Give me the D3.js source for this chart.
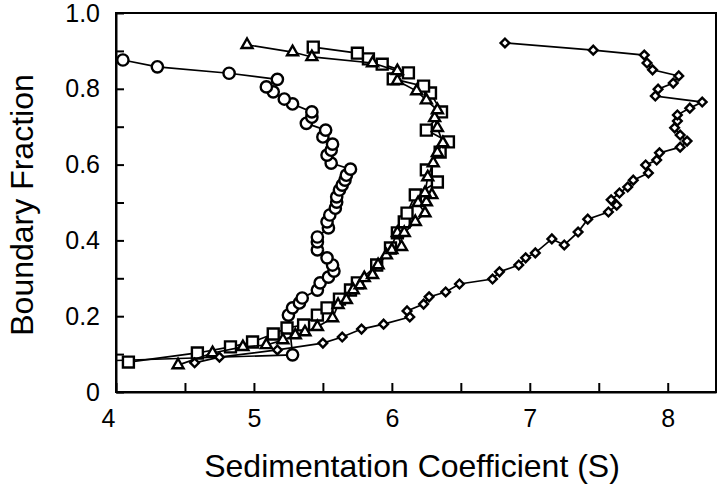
<!DOCTYPE html>
<html>
<head>
<meta charset="utf-8">
<script src="https://cdn.jsdelivr.net/npm/d3@7"></script>
<style>
  html, body { margin: 0; padding: 0; background: #fff; }
  svg { display: block; font-family: "Liberation Sans", Arial, Helvetica, sans-serif; }
</style>
</head>
<body>
<svg id="chart" width="720" height="487"></svg>
<script>
// ---- Data (sedimentation coefficient S, boundary fraction) ----
const circleS = [3.90, 5.28, 5.25, 5.28, 5.33, 5.35, 5.46, 5.48, 5.54, 5.58, 5.57, 5.53, 5.46, 5.46, 5.46, 5.54, 5.53, 5.55, 5.59, 5.60, 5.60, 5.62, 5.64, 5.66, 5.67, 5.70, 5.56, 5.53, 5.56, 5.57, 5.50, 5.52, 5.38, 5.42, 5.42, 5.28, 5.22, 5.14, 5.09, 5.17, 4.82, 4.30, 4.05];
const circleF = [0.082, 0.098, 0.203, 0.222, 0.235, 0.248, 0.269, 0.288, 0.303, 0.319, 0.335, 0.354, 0.375, 0.396, 0.409, 0.433, 0.449, 0.467, 0.485, 0.501, 0.515, 0.533, 0.546, 0.559, 0.572, 0.588, 0.604, 0.625, 0.638, 0.654, 0.673, 0.691, 0.709, 0.725, 0.739, 0.760, 0.773, 0.792, 0.805, 0.825, 0.841, 0.858, 0.876];

const squareS = [4.09, 4.59, 4.83, 4.99, 5.14, 5.24, 5.36, 5.46, 5.53, 5.62, 5.70, 5.75, 5.89, 5.99, 6.04, 6.09, 6.11, 6.17, 6.33, 6.25, 6.35, 6.41, 6.25, 6.36, 6.28, 6.23, 6.01, 6.12, 5.93, 5.83, 5.75, 5.43];
const squareF = [0.079, 0.103, 0.119, 0.132, 0.153, 0.169, 0.177, 0.203, 0.222, 0.245, 0.269, 0.288, 0.335, 0.380, 0.420, 0.449, 0.472, 0.520, 0.554, 0.586, 0.633, 0.660, 0.691, 0.739, 0.789, 0.807, 0.826, 0.842, 0.865, 0.879, 0.894, 0.910];

const triangleS = [4.45, 4.70, 4.92, 5.09, 5.21, 5.30, 5.37, 5.46, 5.57, 5.61, 5.67, 5.72, 5.77, 5.80, 5.86, 5.90, 5.96, 6.00, 6.07, 6.04, 6.09, 6.17, 6.24, 6.19, 6.25, 6.29, 6.24, 6.26, 6.30, 6.33, 6.37, 6.33, 6.31, 6.33, 6.25, 6.18, 6.04, 6.04, 5.86, 5.42, 5.28, 4.95];
const triangleF = [0.071, 0.103, 0.119, 0.124, 0.137, 0.150, 0.158, 0.172, 0.195, 0.230, 0.243, 0.269, 0.282, 0.301, 0.309, 0.335, 0.361, 0.375, 0.383, 0.420, 0.420, 0.449, 0.472, 0.499, 0.501, 0.520, 0.525, 0.567, 0.604, 0.631, 0.657, 0.697, 0.723, 0.744, 0.770, 0.794, 0.821, 0.847, 0.868, 0.884, 0.897, 0.916];

const diamondS = [4.57, 4.75, 5.17, 5.50, 5.64, 5.78, 5.94, 6.13, 6.11, 6.23, 6.27, 6.39, 6.49, 6.73, 6.78, 6.92, 6.97, 7.04, 7.16, 7.25, 7.35, 7.42, 7.57, 7.63, 7.59, 7.65, 7.71, 7.75, 7.86, 7.84, 7.92, 7.94, 8.09, 8.14, 8.09, 8.05, 8.07, 8.07, 8.16, 8.25, 7.91, 7.93, 8.04, 8.08, 7.89, 7.85, 7.83, 7.46, 6.82];
const diamondF = [0.077, 0.092, 0.111, 0.129, 0.145, 0.166, 0.179, 0.198, 0.214, 0.232, 0.251, 0.264, 0.285, 0.298, 0.317, 0.335, 0.354, 0.367, 0.404, 0.388, 0.422, 0.456, 0.475, 0.493, 0.507, 0.525, 0.541, 0.559, 0.578, 0.599, 0.612, 0.631, 0.646, 0.662, 0.678, 0.697, 0.715, 0.731, 0.749, 0.765, 0.781, 0.799, 0.815, 0.834, 0.850, 0.868, 0.889, 0.902, 0.921];

const xTicks = [4, 4.5, 5, 5.5, 6, 6.5, 7, 7.5, 8];
const xTickLabels = ["4", "", "5", "", "6", "", "7", "", "8"];
const yTicks = [0, 0.1, 0.2, 0.3, 0.4, 0.5, 0.6, 0.7, 0.8, 0.9, 1.0];
const yTickLabels = ["0", "", "0.2", "", "0.4", "", "0.6", "", "0.8", "", "1.0"];
const xTitle = "Sedimentation Coefficient (S)";
const yTitle = "Boundary Fraction";

// ---- Layout ----
const L = 116, R = 716, T = 13, B = 392;
const svg = d3.select("#chart");
const x = d3.scaleLinear().domain([4, 8.35]).range([L, R]);
const y = d3.scaleLinear().domain([0, 1.0]).range([B, T]);

svg.append("defs").append("clipPath").attr("id", "plotclip")
  .append("rect").attr("x", L).attr("y", T).attr("width", R - L).attr("height", B - T);

// ---- Series ----
const zip = (a, b) => a.map((v, i) => [v, b[i]]);
const series = [
  { pts: zip(circleS, circleF), sym: d3.symbolCircle, size: 100, rot: 0 },
  { pts: zip(squareS, squareF), sym: d3.symbolSquare, size: 120, rot: 0 },
  { pts: zip(triangleS, triangleF), sym: d3.symbolTriangle, size: 52, rot: 0 },
  { pts: zip(diamondS, diamondF), sym: d3.symbolSquare, size: 38, rot: 45 }
];

const line = d3.line().x(d => x(d[0])).y(d => y(d[1]));
const plot = svg.append("g").attr("clip-path", "url(#plotclip)");

series.forEach(s => {
  plot.append("path").datum(s.pts)
    .attr("d", line).attr("fill", "none")
    .attr("stroke", "#000").attr("stroke-width", 1.7);
  plot.append("g").selectAll("path").data(s.pts).join("path")
    .attr("transform", d => `translate(${x(d[0])},${y(d[1])}) rotate(${s.rot})`)
    .attr("d", d3.symbol().type(s.sym).size(s.size))
    .attr("fill", "#fff").attr("stroke", "#000").attr("stroke-width", 2.4);
});

// ---- Frame ----
svg.append("rect").attr("x", L).attr("y", T).attr("width", R - L).attr("height", B - T)
  .attr("fill", "none").attr("stroke", "#000").attr("stroke-width", 2);

// ---- Axes ----
const xAxis = d3.axisBottom(x).tickValues(xTicks)
  .tickFormat((d, i) => xTickLabels[i]).tickSizeInner(-9).tickSizeOuter(0).tickPadding(17);
const gx = svg.append("g").attr("transform", `translate(0,${B})`).call(xAxis);
gx.select(".domain").attr("stroke-width", 2);
gx.selectAll(".tick line").attr("stroke-width", 2);
gx.selectAll(".tick text").attr("font-size", 25).attr("font-family", "Liberation Sans, Arial, sans-serif").attr("fill", "#000")
  .attr("dx", (d, i) => i === 0 ? -8 : 0);

const yAxis = d3.axisLeft(y).tickValues(yTicks)
  .tickFormat((d, i) => yTickLabels[i]).tickSizeInner(-8).tickSizeOuter(0).tickPadding(16);
const gy = svg.append("g").attr("transform", `translate(${L},0)`).call(yAxis);
gy.select(".domain").attr("stroke-width", 2);
gy.selectAll(".tick line").attr("stroke-width", 2);
gy.selectAll(".tick text").attr("font-size", 25).attr("font-family", "Liberation Sans, Arial, sans-serif").attr("fill", "#000");

// ---- Titles ----
svg.append("text").attr("x", 412).attr("y", 477).attr("text-anchor", "middle")
  .attr("font-size", 32).attr("fill", "#000").text(xTitle);
svg.append("text").attr("transform", "translate(33,205) rotate(-90)").attr("text-anchor", "middle")
  .attr("font-size", 32).attr("fill", "#000").text(yTitle);
</script>
</body>
</html>
